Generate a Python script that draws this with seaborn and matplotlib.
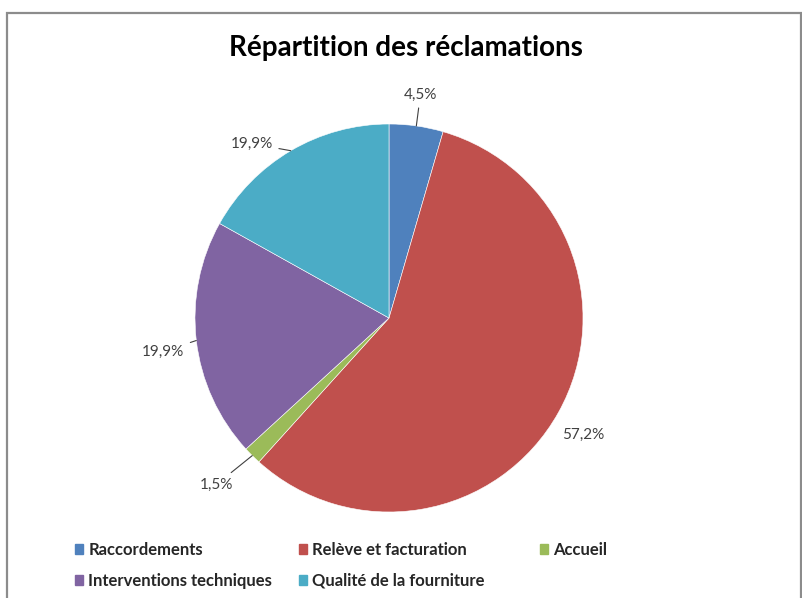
import numpy as np
import matplotlib
matplotlib.use('agg')
import matplotlib.pyplot as plt
import matplotlib.patches as mpatches
import seaborn as sns

categories = ['Raccordements', 'Relève et facturation', 'Accueil',
              'Interventions techniques', 'Qualité de la fourniture']
shares = [4.5, 57.2, 1.5, 19.9, 16.9]
value_labels = ['4,5%', '57,2%', '1,5%', '19,9%', '19,9%']
colors = ['#4F81BD', '#C0504D', '#9BBB59', '#8064A2', '#4BACC6']

sns.set_theme(style='white')
plt.rcParams['font.family'] = ['Lato', 'DejaVu Sans']

W, H = 803, 598
fig = plt.figure(figsize=(W / 100, H / 100), dpi=100)
fig.patch.set_facecolor('white')

# chart frame (cut at the bottom like the screenshot)
fig.add_artist(mpatches.Rectangle((7 / W, -0.05), 794 / W, 1.05 - 12.5 / H,
                                  transform=fig.transFigure, fill=False,
                                  edgecolor='#8c8c8c', lw=1.6))

cx, cy, r = 389, 318, 194
ax = fig.add_axes([(cx - r) / W, (H - cy - r) / H, 2 * r / W, 2 * r / H])
wedges, _ = ax.pie(shares, colors=sns.color_palette(colors), startangle=90,
                   counterclock=False, radius=1,
                   wedgeprops=dict(linewidth=0.4, edgecolor='white'))
ax.set_xlim(-1, 1)
ax.set_ylim(-1, 1)

# label offsets in pixels from the wedge's outer mid point, and leader flag
offsets = [(4, 31), (25, -22), (-36, -29), (-33, -11), (-39, 7)]
leaders = [True, False, True, True, True]
for w, txt, off, lead in zip(wedges, value_labels, offsets, leaders):
    mid = np.deg2rad((w.theta1 + w.theta2) / 2)
    xy = (np.cos(mid), np.sin(mid))
    ax.annotate(txt, xy=xy, xytext=off, textcoords='offset pixels',
                ha='center', va='center', fontsize=11, color='#404040',
                arrowprops=dict(arrowstyle='-', color='#404040', lw=0.8,
                                shrinkA=2, shrinkB=0) if lead else None,
                annotation_clip=False)

fig.text(406 / W, 1 - 48 / H, 'Répartition des réclamations', ha='center',
         va='center', fontsize=20, fontweight='bold', color='black')

# legend laid out in three columns, filled row by row
columns = [[0, 3], [1, 4], [2]]
col_x = [75, 299, 540]
for idx, x in zip(columns, col_x):
    handles = [mpatches.Patch(color=colors[i]) for i in idx]
    fig.legend(handles, [categories[i] for i in idx], loc='upper left',
               bbox_to_anchor=(x / W, 1 - 542 / H), frameon=False,
               borderpad=0, borderaxespad=0, handlelength=0.5,
               handleheight=0.5, handletextpad=0.3, labelspacing=0.88,
               prop=dict(size=12, weight='bold'), labelcolor='#262626')

fig.savefig('out.png', dpi=100)
